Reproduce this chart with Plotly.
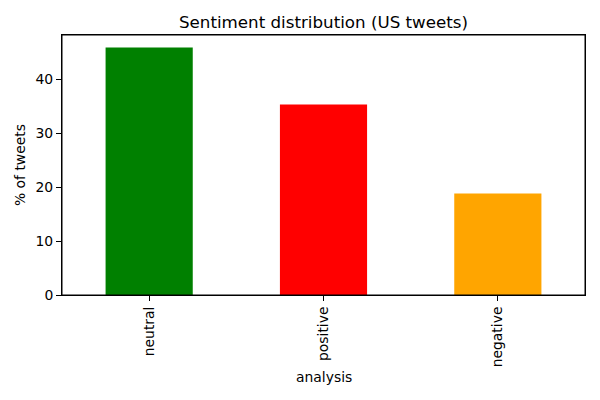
import plotly.graph_objects as go

categories = ["neutral", "positive", "negative"]
values = [45.9, 35.3, 18.8]
colors = ["green", "red", "orange"]

W, H = 600, 400
L, R, T, B = 62, 15, 35, 105
FONT = "DejaVu Sans"

fig = go.Figure(go.Bar(x=categories, y=values, marker=dict(color=colors, line=dict(width=0)), width=0.5))

fig.update_layout(
    width=W, height=H,
    margin=dict(l=L, r=R, t=T, b=B, autoexpand=False),
    paper_bgcolor="white", plot_bgcolor="white",
    font=dict(family=FONT, size=13.9, color="black"),
    showlegend=False,
    title=dict(text="Sentiment distribution (US tweets)", x=(L + (W - R)) / 2 / W, xanchor="center",
               y=1 - 22 / H, yanchor="middle", font=dict(size=16.7, family=FONT)),
    xaxis=dict(range=[-0.5, 2.5], showline=True, mirror=True, linecolor="black", linewidth=1,
               ticks="outside", ticklen=5, tickcolor="black", tickangle=-90, showgrid=False,
               zeroline=False),
    yaxis=dict(range=[0, 48.2], showline=True, mirror=True, linecolor="black", linewidth=1,
               ticks="outside", ticklen=5, tickcolor="black", tickvals=[0, 10, 20, 30, 40],
               showgrid=False, zeroline=False),
    shapes=[dict(type="rect", xref="paper", yref="paper", x0=0, y0=0, x1=1, y1=1,
                 line=dict(color="black", width=1), fillcolor="rgba(0,0,0,0)", layer="above")],
    annotations=[
        dict(text="analysis", xref="paper", yref="paper", x=0.5, y=-(377 - (H - B)) / (H - T - B),
             xanchor="center", yanchor="middle", showarrow=False, font=dict(size=13.9)),
        dict(text="% of tweets", xref="paper", yref="paper", x=-(L - 20) / (W - L - R), y=0.5,
             xanchor="center", yanchor="middle", textangle=-90, showarrow=False, font=dict(size=13.9)),
    ],
)

fig.write_html("out.html", config={"displayModeBar": False},
               post_script="document.body.style.margin='0';")
